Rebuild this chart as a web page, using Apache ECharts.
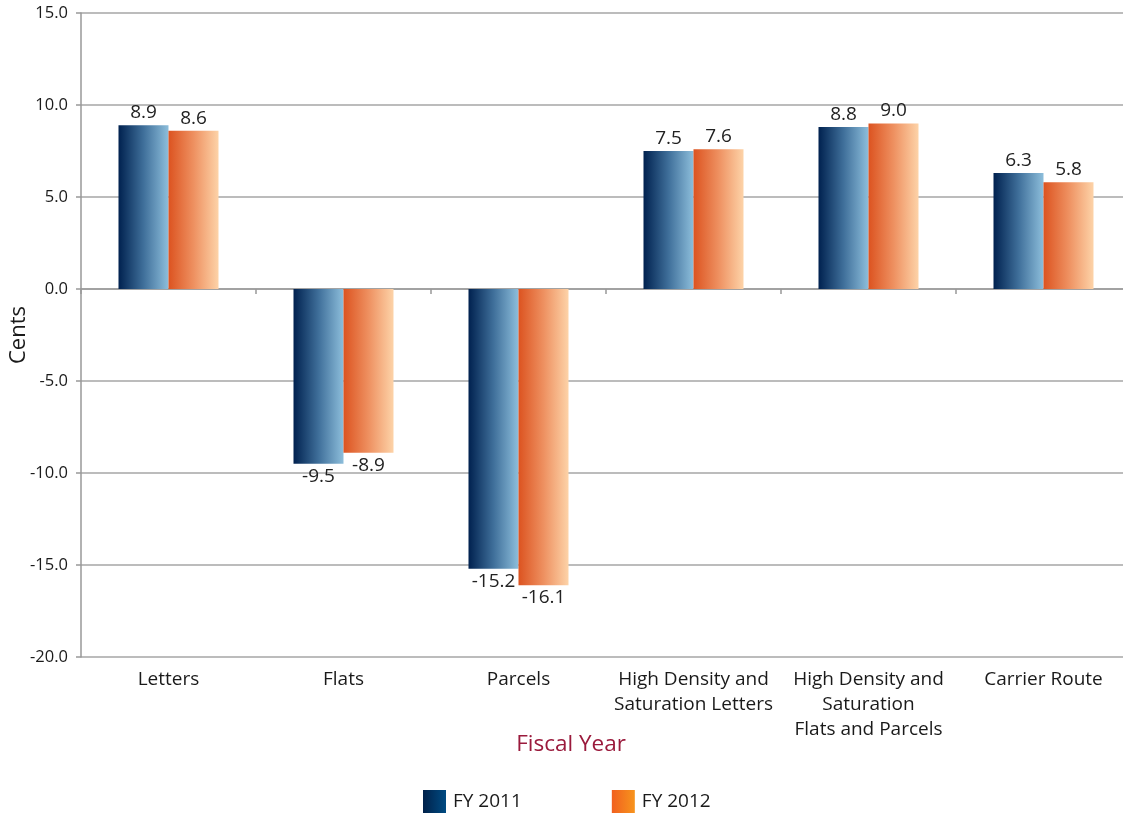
<!DOCTYPE html>
<html>
<head>
<meta charset="utf-8">
<script src="https://cdn.jsdelivr.net/npm/echarts@6/dist/echarts.min.js"></script>
<style>
  html, body { margin: 0; padding: 0; background: #fff; }
  #chart { width: 1123px; height: 814px; }
</style>
</head>
<body>
<div id="chart"></div>
<script>
// Unit cost change by mail category, in cents
const categories = [
  'Letters',
  'Flats',
  'Parcels',
  'High Density and\nSaturation Letters',
  'High Density and\nSaturation\nFlats and Parcels',
  'Carrier Route'
];
const fy2011 = [8.9, -9.5, -15.2, 7.5, 8.8, 6.3];
const fy2012 = [8.6, -8.9, -16.1, 7.6, 9.0, 5.8];
const seriesNames = ['FY 2011', 'FY 2012'];
const yTicks = { min: -20, max: 15, interval: 5 };

const FONT = '"Open Sans", "Noto Sans", sans-serif';

function hGrad(stops) {
  return new echarts.graphic.LinearGradient(0, 0, 1, 0,
    stops.map((c, i) => ({ offset: i / (stops.length - 1), color: c })));
}
const blueBar = hGrad(['#00214f', '#3f6f9a', '#8dbedb']);
const orangeBar = hGrad(['#dc5320', '#ee9060', '#fdd3a8']);
const blueKey = hGrad(['#00214a', '#004b82']);
const orangeKey = hGrad(['#f1601f', '#f7941d']);

function labelled(values) {
  return values.map(v => ({
    value: v,
    label: { position: v < 0 ? 'bottom' : 'top' }
  }));
}

const chart = echarts.init(document.getElementById('chart'), null, { renderer: 'canvas' });
chart.setOption({
  animation: false,
  textStyle: { fontFamily: FONT },
  grid: {
    left: 81, top: 13, right: -8, bottom: 157,
    containLabel: false,
    outerBoundsMode: 'none'
  },
  legend: {
    left: 423,
    top: 790,
    padding: 0,
    itemWidth: 23,
    itemHeight: 23,
    itemGap: 90,
    textStyle: { fontSize: 19, color: '#1a1a1a', fontFamily: FONT, padding: [0, 0, 0, 2] },
    data: [
      { name: seriesNames[0], icon: 'rect', itemStyle: { color: blueKey } },
      { name: seriesNames[1], icon: 'rect', itemStyle: { color: orangeKey } }
    ]
  },
  xAxis: [
    {
      // zero line with separators between categories
      type: 'category',
      data: categories,
      axisLine: { onZero: true, lineStyle: { color: '#999', width: 1.5 } },
      axisTick: { show: true, length: 5, lineStyle: { color: '#999', width: 1.5 } },
      axisLabel: { show: false }
    },
    {
      // category names along the bottom
      type: 'category',
      data: categories,
      position: 'bottom',
      axisLine: { show: false, onZero: false },
      axisTick: { show: false },
      axisLabel: {
        show: true,
        margin: 10,
        fontSize: 19,
        lineHeight: 25,
        color: '#1a1a1a',
        fontFamily: FONT,
        interval: 0
      },
      name: 'Fiscal Year',
      nameLocation: 'middle',
      nameMoveOverlap: false,
      nameGap: 76,
      nameTextStyle: {
        fontSize: 22.5, color: '#9a1a3c', fontFamily: FONT,
        padding: [0, 70, 0, 0]
      }
    }
  ],
  yAxis: {
    type: 'value',
    min: yTicks.min,
    max: yTicks.max,
    interval: yTicks.interval,
    name: 'Cents',
    nameLocation: 'middle',
    nameMoveOverlap: false,
    nameGap: 51,
    nameTextStyle: { fontSize: 22, color: '#1a1a1a', fontFamily: FONT },
    axisLine: { show: true, lineStyle: { color: '#999', width: 1.5 } },
    axisTick: { show: true, length: 5, lineStyle: { color: '#999', width: 1.5 } },
    axisLabel: {
      fontSize: 16.5,
      color: '#1a1a1a',
      margin: 13,
      fontFamily: FONT,
      formatter: v => v.toFixed(1)
    },
    splitLine: { show: true, lineStyle: { color: '#a6a6a6', width: 1.5 } }
  },
  series: [
    {
      name: seriesNames[0],
      type: 'bar',
      xAxisIndex: 0,
      barWidth: 50,
      barGap: '0%',
      itemStyle: { color: blueBar },
      label: {
        show: true, fontSize: 19, color: '#222', fontFamily: FONT, distance: 3,
        formatter: p => p.value.toFixed(1)
      },
      data: labelled(fy2011)
    },
    {
      name: seriesNames[1],
      type: 'bar',
      xAxisIndex: 0,
      barWidth: 50,
      barGap: '0%',
      itemStyle: { color: orangeBar },
      label: {
        show: true, fontSize: 19, color: '#222', fontFamily: FONT, distance: 3,
        formatter: p => p.value.toFixed(1)
      },
      data: labelled(fy2012)
    }
  ]
});
</script>
</body>
</html>
